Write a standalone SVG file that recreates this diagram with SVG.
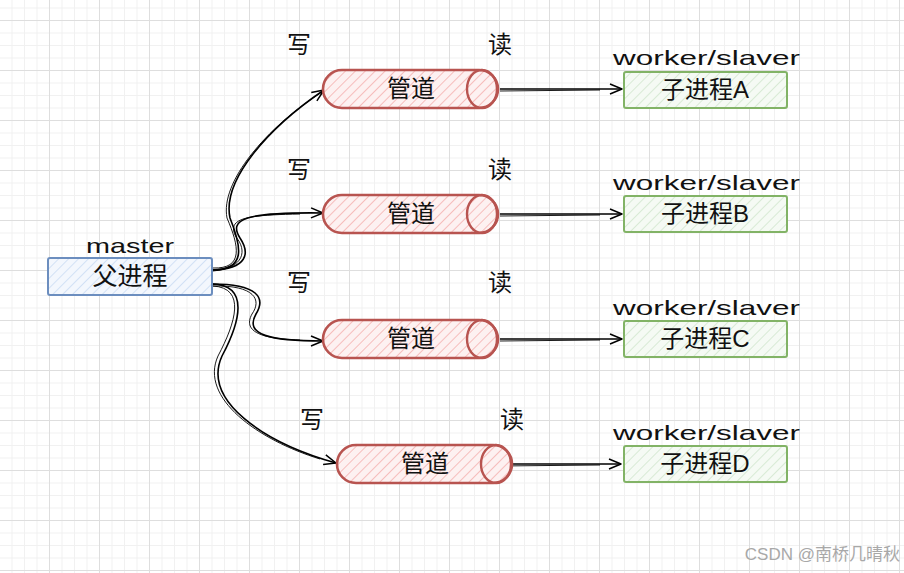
<svg xmlns="http://www.w3.org/2000/svg" width="904" height="573" viewBox="0 0 904 573">
<defs>
<pattern id="grid" patternUnits="userSpaceOnUse" x="49" y="20" width="50" height="50">
<rect width="50" height="50" fill="#ffffff"/>
<path d="M13,0V50M25.5,0V50M38,0V50M0,13H50M0,25.5H50M0,38H50" stroke="#f1f1f1" stroke-width="1" fill="none"/>
<path d="M0.5,0V50M0,0.5H50" stroke="#dedede" stroke-width="1" fill="none"/>
</pattern>
<pattern id="hRed" patternUnits="userSpaceOnUse" width="7" height="7" patternTransform="rotate(45)">
<rect width="7" height="7" fill="#fdf1f1"/>
<line x1="0" y1="0" x2="0" y2="7" stroke="#f3a7a5" stroke-width="1.4"/>
</pattern>
<pattern id="hBlue" patternUnits="userSpaceOnUse" width="7" height="7" patternTransform="rotate(45)">
<rect width="7" height="7" fill="#f3f7fd"/>
<line x1="0" y1="0" x2="0" y2="7" stroke="#bcd3f1" stroke-width="1.2"/>
</pattern>
<pattern id="hGreen" patternUnits="userSpaceOnUse" width="7" height="7" patternTransform="rotate(45)">
<rect width="7" height="7" fill="#f5faf4"/>
<line x1="0" y1="0" x2="0" y2="7" stroke="#c5e0c1" stroke-width="1.2"/>
</pattern>
<marker id="arr" markerUnits="userSpaceOnUse" markerWidth="14" markerHeight="12" refX="12" refY="6" orient="auto" overflow="visible">
<path d="M0,1 L12,6 L0,11" fill="none" stroke="#000" stroke-width="1.5" stroke-linejoin="round"/>
</marker>
<style>
text{font-family:"Liberation Sans","Noto Sans CJK SC",sans-serif;fill:#111;}
.lbl{font-size:22px;text-anchor:middle;}
.cn{font-size:24px;text-anchor:middle;}
.hand{font-size:21px;}
.pipe{fill:url(#hRed);stroke:#b85450;stroke-width:2.6;}
.cap{fill:none;stroke:#b85450;stroke-width:2.4;}
.master{fill:url(#hBlue);stroke:#6c8ebf;stroke-width:2;}
.child{fill:url(#hGreen);stroke:#82b366;stroke-width:2;}
.conn{fill:none;stroke:#000;stroke-width:1.6;marker-end:url(#arr);}
.conn2{fill:none;stroke:#000;stroke-width:0.9;}
</style>
</defs>
<rect width="904" height="573" fill="url(#grid)"/>

<g id="connectors">
<path class="conn" d="M212,270 C246,270 242,248 230,218 C222,180 268,128 324,90"/>
<path class="conn2" d="M213,268 C244,269 239,246 227,218 C220,182 266,128 322,92"/>
<path class="conn" d="M212,270 C248,269 250,253 240,238 C228,219 245,212 323,213"/>
<path class="conn2" d="M213,271 C245,268 247,250 236,237 C226,218 246,215 300,214"/>
<path class="conn" d="M212,284 C258,284 266,298 256,314 C244,335 270,341 323,341"/>
<path class="conn2" d="M213,286 C255,285 262,300 252,314 C241,334 268,339 300,340"/>
<path class="conn" d="M212,284 C250,285 240,322 222,356 C202,400 262,442 336,463"/>
<path class="conn2" d="M213,286 C246,288 236,322 218,356 C199,398 258,440 320,459"/>
<path class="conn" d="M500,89 L622,89"/>
<path class="conn2" d="M500,91 L600,90"/>
<path class="conn" d="M500,214 L622,214"/>
<path class="conn2" d="M500,216 L600,215"/>
<path class="conn" d="M500,339 L622,339"/>
<path class="conn2" d="M500,341 L600,340"/>
<path class="conn" d="M500,464 L621,464"/>
<path class="conn2" d="M500,466 L600,465"/>
</g>

<g id="master">
<rect class="master" x="48" y="258" width="164" height="37" rx="2"/>
<text class="hand" x="130" y="253" text-anchor="middle" textLength="88" lengthAdjust="spacingAndGlyphs">master</text>
<text x="130" y="285" font-size="25" text-anchor="middle">父进程</text>
</g>

<g id="pipeA">
<rect class="pipe" x="323" y="70" width="175" height="38" rx="19"/>
<ellipse class="cap" cx="482" cy="89" rx="15" ry="19"/>
<text class="cn" x="411" y="97">管道</text>
<text class="cn" x="299" y="53">写</text>
<text class="cn" x="500" y="53">读</text>
</g>
<g id="pipeB">
<rect class="pipe" x="323" y="195" width="175" height="38" rx="19"/>
<ellipse class="cap" cx="482" cy="214" rx="15" ry="19"/>
<text class="cn" x="411" y="222">管道</text>
<text class="cn" x="299" y="178">写</text>
<text class="cn" x="500" y="178">读</text>
</g>
<g id="pipeC">
<rect class="pipe" x="323" y="320" width="175" height="38" rx="19"/>
<ellipse class="cap" cx="482" cy="339" rx="15" ry="19"/>
<text class="cn" x="411" y="347">管道</text>
<text class="cn" x="299" y="291">写</text>
<text class="cn" x="500" y="291">读</text>
</g>
<g id="pipeD">
<rect class="pipe" x="337" y="445" width="175" height="38" rx="19"/>
<ellipse class="cap" cx="496" cy="464" rx="15" ry="19"/>
<text class="cn" x="425" y="472">管道</text>
<text class="cn" x="312" y="428">写</text>
<text class="cn" x="512" y="428">读</text>
</g>

<g id="childA">
<rect class="child" x="624" y="72" width="163" height="36" rx="2"/>
<text class="hand" x="613" y="65" textLength="187" lengthAdjust="spacingAndGlyphs">worker/slaver</text>
<text class="cn" x="705" y="98">子进程A</text>
</g>
<g id="childB">
<rect class="child" x="624" y="196" width="163" height="36" rx="2"/>
<text class="hand" x="613" y="190" textLength="187" lengthAdjust="spacingAndGlyphs">worker/slaver</text>
<text class="cn" x="705" y="222">子进程B</text>
</g>
<g id="childC">
<rect class="child" x="624" y="321" width="163" height="36" rx="2"/>
<text class="hand" x="613" y="315" textLength="187" lengthAdjust="spacingAndGlyphs">worker/slaver</text>
<text class="cn" x="705" y="347">子进程C</text>
</g>
<g id="childD">
<rect class="child" x="624" y="446" width="163" height="36" rx="2"/>
<text class="hand" x="613" y="440" textLength="187" lengthAdjust="spacingAndGlyphs">worker/slaver</text>
<text class="cn" x="705" y="472">子进程D</text>
</g>

<text x="900" y="560" font-size="17" text-anchor="end" style="fill:#a8a8a8">CSDN @南桥几晴秋</text>
</svg>
